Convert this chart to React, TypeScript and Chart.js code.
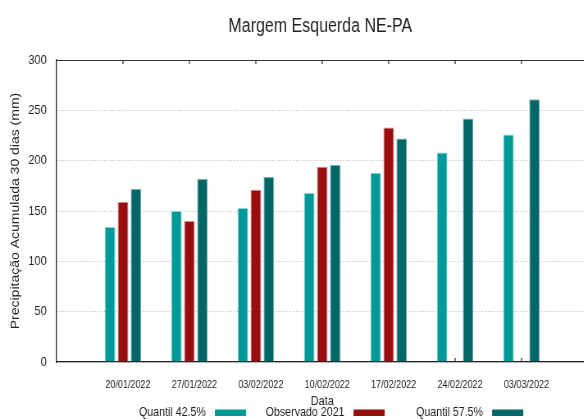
import React, { useEffect, useRef } from "react";
import { Chart, registerables } from "chart.js";

Chart.register(...registerables);

const titleText = "Margem Esquerda NE-PA";
const yTitle = "Precipitação Acumulada 30 dias (mm)";
const xTitle = "Data";

const categories = [
  "20/01/2022",
  "27/01/2022",
  "03/02/2022",
  "10/02/2022",
  "17/02/2022",
  "24/02/2022",
  "03/03/2022",
];

const quantil425 = [134, 150, 153, 168, 188, 208, 226];
const observado2021: (number | null)[] = [159, 140, 171, 194, 233, null, null];
const quantil575 = [172, 182, 184, 196, 222, 242, 261];

const seriesNames = ["Quantil 42.5%", "Observado 2021", "Quantil 57.5%"];
const seriesColors = ["#009999", "#990f0f", "#006766"];
const seriesBorders = ["#8fd3d3", "#cf8a8a", "#86b8b8"];

const yMin = 0;
const yMax = 300;
const yStep = 50;

// The reference is horizontally compressed; draw wide, then squeeze.
const SX = 0.82;
const CANVAS_W = 720;
const CANVAS_H = 420;

const FONT = "'Liberation Sans', Arial, sans-serif";
const TEXT = "#222222";

export default function App() {
  const ref = useRef<HTMLCanvasElement | null>(null);

  useEffect(() => {
    const canvas = ref.current;
    if (!canvas) return;
    const labels = ["", ...categories, ""];
    const pad = (arr: (number | null)[]) => [null, ...arr, null];
    const values = [quantil425, observado2021, quantil575];

    const decor = {
      id: "decor",
      beforeDatasetsDraw(chart: any) {
        const ctx = chart.ctx;
        const { left, right, top, bottom } = chart.chartArea;
        const xs = chart.scales.x;
        ctx.save();
        ctx.strokeStyle = "#333333";
        ctx.lineWidth = 1.2;
        ctx.beginPath();
        ctx.moveTo(left, top + 0.5);
        ctx.lineTo(right, top + 0.5);
        ctx.stroke();
        ctx.beginPath();
        ctx.lineWidth = 1.3;
        for (let i = 1; i <= categories.length; i++) {
          const px = xs.getPixelForValue(i);
          ctx.moveTo(px, bottom);
          ctx.lineTo(px, bottom - 4);
          ctx.moveTo(px, top);
          ctx.lineTo(px, top + 4);
        }
        ctx.stroke();
        ctx.restore();
      },
      afterDraw(chart: any) {
        const ctx = chart.ctx;
        const { left } = chart.chartArea;
        const cx = (left + 584 / SX) / 2;
        ctx.save();
        ctx.fillStyle = TEXT;
        ctx.font = `19.5px ${FONT}`;
        ctx.textAlign = "center";
        ctx.textBaseline = "middle";
        ctx.fillText(titleText, cx, 26.5);

        ctx.font = `13px ${FONT}`;
        ctx.textAlign = "right";
        ctx.textBaseline = "middle";
        const colStart = cx - 139.5;
        const colStep = 169;
        for (let i = 0; i < seriesNames.length; i++) {
          const colX = colStart + i * colStep;
          ctx.fillStyle = TEXT;
          ctx.fillText(seriesNames[i], colX, 412);
          ctx.fillStyle = seriesColors[i];
          ctx.fillRect(colX + 11, 409.5, 38, 6.5);
        }
        ctx.restore();
      },
    };

    const chart = new Chart(canvas, {
      type: "bar",
      data: {
        labels,
        datasets: values.map((v, i) => ({
          label: seriesNames[i],
          data: pad(v),
          backgroundColor: seriesColors[i],
          borderColor: seriesBorders[i],
          borderWidth: 1,
          categoryPercentage: 0.587,
          barPercentage: 0.82,
        })),
      },
      options: {
        responsive: false,
        animation: false,
        devicePixelRatio: 1,
        layout: { padding: { top: 60, left: 0, right: 0, bottom: 0 } },
        plugins: {
          legend: { display: false },
          title: { display: false },
          tooltip: { enabled: false },
        },
        scales: {
          x: {
            type: "category",
            offset: false,
            min: 0,
            max: labels.length - 1,
            grid: {
              display: true,
              color: "transparent",
              drawOnChartArea: false,
              drawTicks: true,
              tickLength: 13,
            },
            border: { display: true, color: "#222222", width: 1.3 },
            ticks: {
              autoSkip: false,
              maxRotation: 0,
              minRotation: 0,
              padding: 3,
              labelOffset: 6,
              color: TEXT,
              font: { family: FONT, size: 11 },
            },
            title: {
              display: true,
              text: xTitle,
              color: TEXT,
              font: { family: FONT, size: 13.3 },
              padding: { top: 0, bottom: 11 },
            },
            afterFit(scale: any) {
              scale.height = 58;
            },
          },
          y: {
            min: yMin,
            max: yMax,
            ticks: {
              stepSize: yStep,
              padding: 12,
              color: TEXT,
              font: { family: FONT, size: 13.5 },
            },
            grid: {
              color: "#b5b5b5",
              lineWidth: 1,
              drawTicks: false,
            },
            border: { display: true, color: "#222222", width: 1.3, dash: [1.2, 2.4] },
            title: {
              display: true,
              text: yTitle,
              color: TEXT,
              font: { family: FONT, size: 14 },
              padding: { top: 11, bottom: 0 },
            },
            afterFit(scale: any) {
              scale.width = 69;
            },
          },
        },
      },
      plugins: [decor],
    });
    return () => chart.destroy();
  }, []);

  return (
    <div
      style={{
        position: "fixed",
        left: 0,
        top: 0,
        width: 584,
        height: 420,
        overflow: "hidden",
        background: "#ffffff",
      }}
    >
      <canvas
        ref={ref}
        width={CANVAS_W}
        height={CANVAS_H}
        style={{
          display: "block",
          transform: `scaleX(${SX})`,
          transformOrigin: "0 0",
        }}
      />
    </div>
  );
}
